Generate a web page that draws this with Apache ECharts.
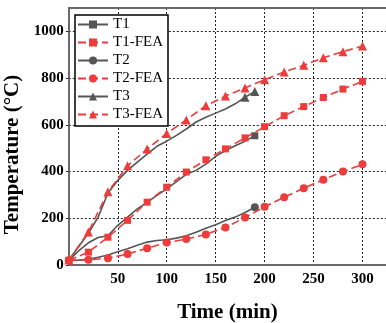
<!DOCTYPE html>
<html><head><meta charset="utf-8">
<script src="https://cdn.jsdelivr.net/npm/echarts@6/dist/echarts.min.js"></script>
<style>html,body{margin:0;padding:0;background:#fff}#c{width:386px;height:323px}</style>
</head><body><div id="c"></div>
<script>
const expTime = [0,10,20,30,40,50,60,70,80,90,100,110,120,130,140,150,160,170,180,190];
const t1 = [20,60,95,118,125,170,205,240,268,298,326,357,388,405,432,465,490,510,530,553];
const t2 = [20,21,24,33,43,57,70,85,98,105,108,115,125,140,157,172,190,205,225,247];
const t3 = [20,78,136,205,308,362,405,440,475,508,530,555,582,612,632,650,668,690,718,743];
const feaTime = [0,20,40,60,80,100,120,140,160,180,200,220,240,260,280,300];
const t1Fea = [20,55,119,191,269,333,398,450,497,544,592,639,678,717,753,786];
const t2Fea = [20,22,29,47,72,96,111,131,161,203,249,290,329,365,400,431];
const t3Fea = [21,141,313,425,496,563,621,682,723,758,793,826,855,887,913,937];
const xTicks = [50,100,150,200,250,300];
const yTicks = [0,200,400,600,800,1000];

const GREY = '#555555', RED = '#ee3b3b';
const pair = (xs, ys) => xs.map((x, i) => [x, ys[i]]);
function expSeries(name, ys, symbol, size, marked) {
  return {
    name, type: 'line', data: pair(expTime, ys), symbol,
    symbolSize: (v, p) => marked.includes(p.dataIndex) ? size : 0,
    showAllSymbol: true,
    itemStyle: {color: GREY}, lineStyle: {color: GREY, width: 1.6}, z: 3
  };
}
function feaSeries(name, ys, symbol, size) {
  return {
    name, type: 'line', data: pair(feaTime, ys), symbol, symbolSize: size,
    showAllSymbol: true,
    itemStyle: {color: RED}, lineStyle: {color: RED, width: 1.6, type: [8, 4]}, z: 4
  };
}
const font = 'Liberation Serif';
const chart = echarts.init(document.getElementById('c'), null, {renderer: 'canvas'});
chart.setOption({
  animation: false,
  backgroundColor: '#fff',
  grid: {left: 68.8, right: 0, top: 8, bottom: 58, containLabel: false, outerBoundsMode: 'none'},
  legend: {
    left: 75, top: 15, orient: 'vertical',
    itemWidth: 30, itemHeight: 10, itemGap: 3,
    padding: [2, 5, 4, 2],
    borderColor: '#000', borderWidth: 1.5, backgroundColor: '#fff',
    textStyle: {fontFamily: font, fontSize: 15, color: '#000', lineHeight: 14},
    data: ['T1','T1-FEA','T2','T2-FEA','T3','T3-FEA']
  },
  xAxis: [{
    type: 'value', min: 0, max: 324, interval: 50,
    name: 'Time (min)', nameLocation: 'middle', nameGap: 37,
    nameTextStyle: {fontFamily: font, fontSize: 21, fontWeight: 'bold', color: '#000'},
    axisLine: {lineStyle: {color: '#6b6b6b', width: 2}},
    axisTick: {show: false},
    axisLabel: {fontFamily: font, fontSize: 15, fontWeight: 'bold', color: '#000', margin: 7,
      formatter: v => xTicks.includes(v) ? String(v) : ''},
    splitLine: {show: true, lineStyle: {color: '#222', width: 1, type: [2, 2]}}
  }, {
    type: 'value', position: 'top', min: 0, max: 324, interval: 50,
    axisLine: {show: true, lineStyle: {color: '#6b6b6b', width: 2}},
    axisTick: {show: false}, axisLabel: {show: false}, splitLine: {show: false}
  }],
  yAxis: {
    type: 'value', min: 0, max: 1100, interval: 200,
    name: 'Temperature (°C)', nameLocation: 'middle', nameGap: 32,
    nameTextStyle: {fontFamily: font, fontSize: 21, fontWeight: 'bold', color: '#000', padding: [0, 36, 0, 0]},
    axisLine: {show: true, lineStyle: {color: '#6b6b6b', width: 2}},
    axisTick: {show: true, length: 3, lineStyle: {color: '#333'}},
    axisLabel: {fontFamily: font, fontSize: 15, fontWeight: 'bold', color: '#000', margin: 5,
      showMaxLabel: false, formatter: v => yTicks.includes(v) ? String(v) : ''},
    splitLine: {show: true, showMaxLine: false, lineStyle: {color: '#222', width: 1, type: [2, 2]}}
  },
  series: [
    expSeries('T1', t1, 'rect', 7, [19]),
    feaSeries('T1-FEA', t1Fea, 'rect', 7),
    expSeries('T2', t2, 'circle', 8, [19]),
    feaSeries('T2-FEA', t2Fea, 'circle', 8),
    expSeries('T3', t3, 'triangle', 9, [18, 19]),
    feaSeries('T3-FEA', t3Fea, 'triangle', 9)
  ]
});
</script></body></html>
